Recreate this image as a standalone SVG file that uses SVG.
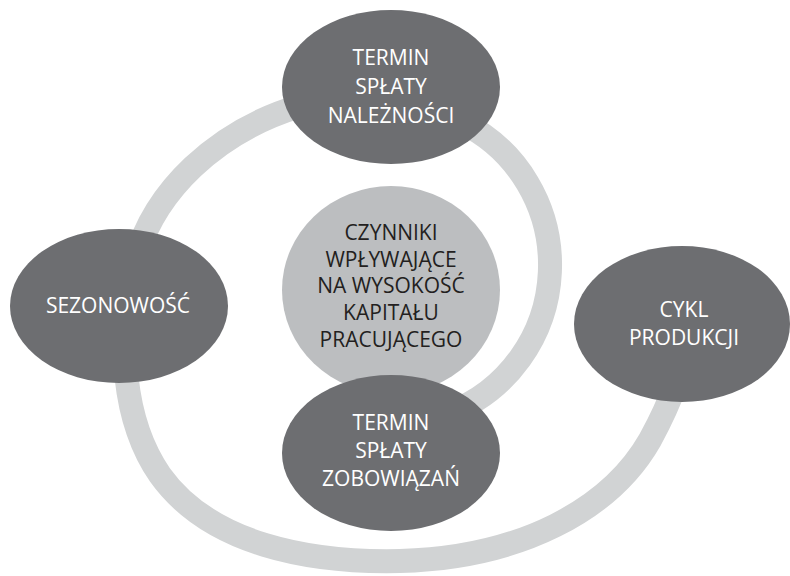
<svg xmlns="http://www.w3.org/2000/svg" width="790" height="576" viewBox="0 0 790 576">
<style>
.band{fill:none;stroke:#d1d3d4;stroke-width:24}
.dark{fill:#6d6e71}
.light{fill:#bcbec0}
text{font-family:"Open Sans","Liberation Sans",sans-serif;font-size:21px;text-anchor:middle}
.w{fill:#ffffff}
.k{fill:#231f20}
</style>
<rect width="790" height="576" fill="#ffffff"/>
<g id="connectors">
<path class="band" d="M 300 106 C 220 130 150 190 133 270 C 118 340 122 420 160 475 C 210 545 310 563 400 561 C 520 558 610 510 650 440 C 662 418 670 400 675 385"/>
<path class="band" d="M 460.5 121.8 A 155 158 0 0 1 448 413.5"/>
</g>
<g id="node-top">
<ellipse class="dark" cx="391" cy="87" rx="109" ry="77"/>
<text class="w" x="391" y="65">TERMIN</text>
<text class="w" x="391" y="94">SPŁATY</text>
<text class="w" x="391" y="123">NALEŻNOŚCI</text>
</g>
<g id="node-center">
<ellipse class="light" cx="391" cy="290" rx="109" ry="104"/>
<text class="k" x="391" y="240">CZYNNIKI</text>
<text class="k" x="391" y="267">WPŁYWAJĄCE</text>
<text class="k" x="391" y="293">NA WYSOKOŚĆ</text>
<text class="k" x="391" y="320">KAPITAŁU</text>
<text class="k" x="391" y="347">PRACUJĄCEGO</text>
</g>
<g id="node-left">
<ellipse class="dark" cx="119" cy="306" rx="109" ry="77"/>
<text class="w" x="118" y="313">SEZONOWOŚĆ</text>
</g>
<g id="node-bottom">
<ellipse class="dark" cx="391" cy="453" rx="109" ry="78"/>
<text class="w" x="391" y="430">TERMIN</text>
<text class="w" x="391" y="458">SPŁATY</text>
<text class="w" x="391" y="486">ZOBOWIĄZAŃ</text>
</g>
<g id="node-right">
<ellipse class="dark" cx="682" cy="324" rx="108" ry="78"/>
<text class="w" x="684" y="317">CYKL</text>
<text class="w" x="684" y="345">PRODUKCJI</text>
</g>
</svg>
